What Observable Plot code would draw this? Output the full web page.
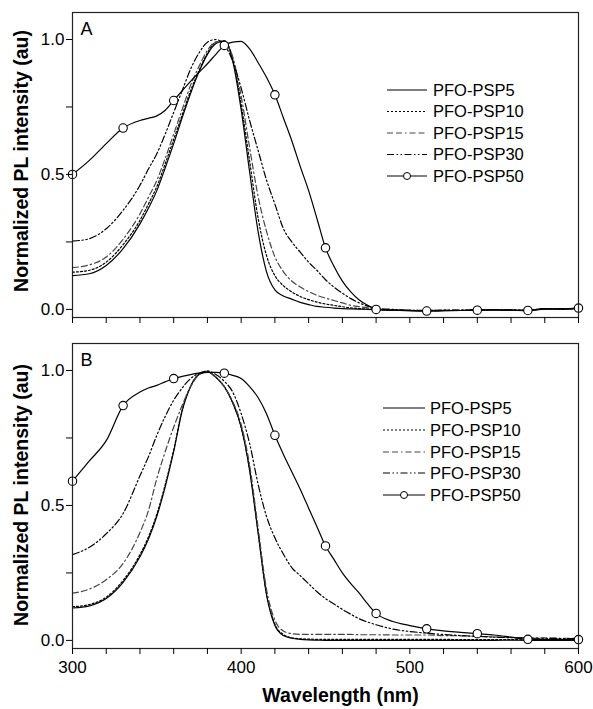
<!DOCTYPE html>
<html><head><meta charset="utf-8">
<script src="https://cdn.jsdelivr.net/npm/d3@7"></script>
<script src="https://cdn.jsdelivr.net/npm/@observablehq/plot@0.6"></script>
<style>
body{margin:0;background:#fff;}
#wrap{position:relative;width:593px;height:709px;font-family:Arial,"Liberation Sans",sans-serif;}
#wrap svg{position:absolute;left:0;overflow:visible;}
</style></head><body><div id="wrap"></div>
<script>
// ---- data ----
const wavelengths = [300,310,320,330,340,345,350,355,360,365,370,375,380,385,390,395,400,405,410,415,420,425,430,435,440,445,450,455,460,465,470,475,480,490,500,510,520,530,540,550,560,570,580,590,600];
const seriesNames = ["PFO-PSP5","PFO-PSP10","PFO-PSP15","PFO-PSP30","PFO-PSP50"];

const A_PSP5  = [.125,.132,.163,.225,.317,.375,.44,.525,.614,.71,.80,.88,.945,.985,.995,.92,.74,.51,.29,.14,.072,.05,.038,.026,.018,.011,.008,.005,.003,.002,.001,0,-.001,-.003,-.005,-.006,-.005,-.004,-.003,-.002,-.003,-.005,.001,0,.003];
const A_PSP10 = [.138,.145,.175,.24,.33,.39,.455,.54,.63,.72,.81,.885,.95,.99,.995,.93,.76,.55,.34,.20,.125,.088,.065,.048,.036,.027,.02,.015,.01,.006,.003,.001,-.001,-.003,-.004,-.005,-.004,-.004,-.002,-.002,-.003,-.004,.002,.001,.004];
const A_PSP15 = [.155,.165,.194,.26,.354,.415,.478,.56,.65,.74,.83,.90,.96,.99,.99,.935,.79,.60,.42,.29,.195,.14,.105,.083,.066,.052,.042,.033,.024,.015,.01,.006,.002,-.002,-.003,-.004,-.003,-.003,-.001,-.001,-.002,-.003,.003,.002,.005];
const A_PSP30 = [.253,.262,.299,.367,.46,.52,.577,.65,.73,.81,.89,.95,.99,1.0,.98,.92,.82,.70,.59,.48,.39,.30,.25,.212,.175,.144,.11,.083,.06,.04,.024,.012,.005,0,-.003,-.004,-.003,-.003,-.001,-.001,-.002,-.003,.003,.002,.005];
const A_PSP50 = [.50,.552,.614,.672,.70,.708,.717,.738,.774,.81,.845,.878,.91,.945,.978,.99,.993,.965,.915,.86,.795,.71,.625,.53,.44,.335,.228,.16,.105,.065,.035,.015,0,-.003,-.005,-.006,-.005,-.004,-.003,-.002,-.003,-.004,.002,.002,.005];

const B_PSP5  = [.12,.128,.155,.215,.31,.375,.46,.57,.70,.85,.94,.985,.995,.975,.94,.88,.79,.63,.40,.17,.055,.018,.008,.004,.002,.001,0,0,0,0,0,0,0,0,0,0,0,0,0,0,.001,0,0,0,.001];
const B_PSP10 = [.125,.133,.16,.222,.318,.383,.468,.578,.705,.853,.942,.986,.995,.975,.94,.88,.79,.635,.405,.175,.06,.022,.01,.006,.005,.004,.004,.004,.004,.004,.004,.004,.004,.004,.004,.004,.004,.003,.003,.003,.003,.002,.002,.003,.002];
const B_PSP15 = [.175,.19,.225,.285,.40,.48,.60,.70,.79,.87,.94,.985,.998,.975,.94,.885,.80,.65,.42,.19,.075,.035,.025,.022,.022,.022,.022,.022,.022,.022,.021,.021,.021,.02,.02,.02,.018,.017,.015,.013,.011,.01,.009,.008,.008];
const B_PSP30 = [.318,.345,.395,.47,.61,.68,.76,.83,.89,.935,.97,.99,.998,.985,.96,.92,.84,.73,.58,.46,.38,.32,.27,.24,.21,.18,.155,.135,.115,.097,.08,.068,.058,.042,.033,.027,.022,.018,.015,.012,.01,.008,.008,.007,.006];
const B_PSP50 = [.59,.665,.74,.87,.92,.935,.945,.958,.97,.978,.985,.99,.993,.993,.99,.982,.97,.94,.90,.84,.76,.69,.625,.56,.49,.42,.35,.30,.25,.21,.175,.135,.10,.07,.055,.043,.035,.03,.025,.02,.012,.004,.004,.003,.003];

const markerWavelengths = [300,330,360,390,420,450,480,510,540,570,600];
const xTicks = [300,320,340,360,380,400,420,440,460,480,500,520,540,560,580,600];
const xTickLabels = [300,400,500,600];
const yTicks = [0,0.25,0.5,0.75,1];
const yTickLabels = [0,0.5,1];
const panelLetters = ["A","B"];
const yLabel = "Normalized PL intensity (au)";
const xLabel = "Wavelength (nm)";

// ---- styles ----
const dashes = [null, "2,2", "6,3,6,3,1.5,3", "7,2.5,1.5,2.5,1.5,2.5", null];
const strokes = ["#000","#000","#444","#000","#000"];

function buildPanel(seriesValues, letter, showXLabels, cfg) {
  const marks = [];
  seriesValues.forEach((vals, i) => {
    const rows = wavelengths.map((w, j) => ({w, v: vals[j]}));
    marks.push(Plot.line(rows, {x: "w", y: "v", stroke: strokes[i], strokeWidth: 1.2,
      strokeDasharray: dashes[i], curve: "monotone-x"}));
    if (i === 4) {
      marks.push(Plot.dot(rows.filter(d => markerWavelengths.includes(d.w)),
        {x: "w", y: "v", r: 4.2, fill: "white", stroke: "#000", strokeWidth: 1.1}));
    }
  });
  marks.push(Plot.frame({stroke: "#222", strokeWidth: 1.2}));
  marks.push(Plot.axisX({ticks: xTicks, tickSize: 6, tickPadding: 6,
    tickFormat: d => (showXLabels && xTickLabels.includes(d)) ? String(d) : "", label: null}));
  marks.push(Plot.axisY({ticks: yTicks, tickSize: 6, tickPadding: 2,
    tickFormat: d => yTickLabels.includes(d) ? d.toFixed(1) : "", label: null}));
  marks.push(Plot.text([letter], {frameAnchor: "top-left", dx: 8, dy: 10, fontSize: 18,
    textAnchor: "start", lineAnchor: "top"}));
  marks.push(Plot.text([yLabel], {frameAnchor: "left", rotate: -90, dx: -51, dy: cfg.yLabelDy,
    fontSize: 19.5, fontWeight: "bold", textAnchor: "middle"}));
  if (showXLabels) {
    marks.push(Plot.text([xLabel], {frameAnchor: "bottom", dx: 15, dy: 47, fontSize: 19.5,
      fontWeight: "bold", lineAnchor: "middle"}));
  }
  return Plot.plot({
    width: 593, height: cfg.height,
    marginLeft: 72, marginRight: 15, marginTop: cfg.top, marginBottom: cfg.bottom,
    x: {domain: [300, 600]},
    y: {domain: [-0.03, 1.1]},
    style: {fontSize: "17px", fontFamily: "Arial, 'Liberation Sans', sans-serif", color: "#000", background: "transparent"},
    marks
  });
}

function legend(x0, x1, tx, ys) {
  const svg = d3.create("svg").attr("width", 593).attr("height", 709)
    .style("top", "0px").style("pointer-events", "none");
  seriesNames.forEach((name, i) => {
    const g = svg.append("g");
    g.append("line").attr("x1", x0).attr("x2", x1).attr("y1", ys[i]).attr("y2", ys[i])
      .attr("stroke", strokes[i]).attr("stroke-width", 1.2)
      .attr("stroke-dasharray", dashes[i]);
    if (i === 4) g.append("circle").attr("cx", (x0 + x1) / 2).attr("cy", ys[i]).attr("r", 3.5)
      .attr("fill", "white").attr("stroke", "#000");
    g.append("text").attr("x", tx).attr("y", ys[i]).attr("dy", "0.35em")
      .attr("font-size", 16.5).attr("font-family", "Arial, 'Liberation Sans', sans-serif")
      .text(name);
  });
  return svg.node();
}

const wrap = document.getElementById("wrap");
const pA = buildPanel([A_PSP5, A_PSP10, A_PSP15, A_PSP30, A_PSP50], panelLetters[0], false,
  {height: 330, top: 12, bottom: 13, yLabelDy: -4});
pA.style.top = "0px";
wrap.appendChild(pA);
const pB = buildPanel([B_PSP5, B_PSP10, B_PSP15, B_PSP30, B_PSP50], panelLetters[1], true,
  {height: 379, top: 13, bottom: 61, yLabelDy: -1});
pB.style.top = "330px";
wrap.appendChild(pB);
wrap.appendChild(legend(387, 427, 433, [90, 111.5, 133, 154.5, 176]));
wrap.appendChild(legend(383, 425, 430, [408, 430, 452, 473, 495]));
</script></body></html>
